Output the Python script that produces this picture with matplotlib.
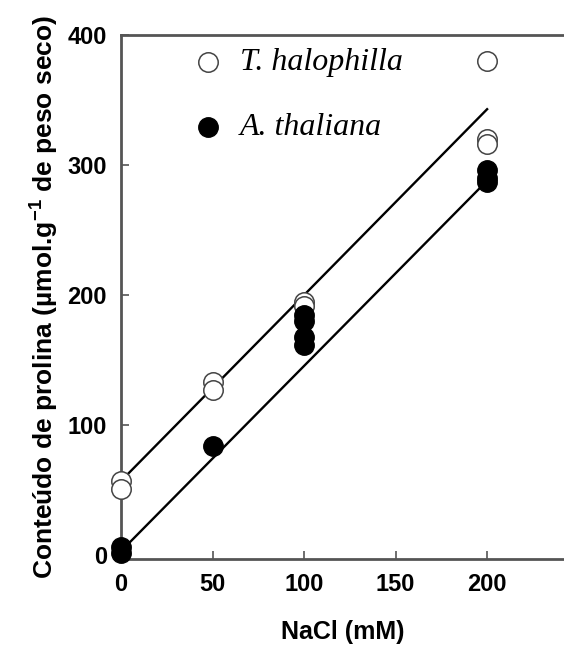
import matplotlib
matplotlib.use("Agg")
import matplotlib.pyplot as plt
import numpy as np

# T. halophilla (open circles)
th_x = [0, 0, 50, 50, 100, 100, 200, 200, 200]
th_y = [57, 51, 133, 127, 195, 192, 380, 320, 316]
# A. thaliana (filled circles)
at_x = [0, 0, 50, 100, 100, 100, 100, 200, 200, 200]
at_y = [6, 2, 84, 185, 180, 168, 162, 296, 290, 287]

# regression lines as drawn (intercept, slope)
th_fit = (57.0, 1.43)
at_fit = (3.0, 1.425)
fit_x = [0, 200]

plt.rcParams["font.family"] = ["Liberation Sans", "DejaVu Sans"]
plt.rcParams["mathtext.fontset"] = "custom"
plt.rcParams["mathtext.rm"] = "Liberation Sans:bold"
plt.rcParams["mathtext.bf"] = "Liberation Sans:bold"
plt.rcParams["mathtext.default"] = "bf"

fig = plt.figure(figsize=(5.64, 6.5), dpi=100)
ax = fig.add_axes([0.2145, 0.14, 0.7855, 0.806])

fx = np.array(fit_x, dtype=float)
ax.plot(fx, th_fit[0] + th_fit[1] * fx, color="black", lw=1.7, zorder=2)
ax.plot(fx, at_fit[0] + at_fit[1] * fx, color="black", lw=1.7, zorder=2)

ax.plot(th_x, th_y, "o", ms=14, mfc="white", mec="#444444", mew=1.1,
        ls="none", zorder=3, clip_on=False)
ax.plot(at_x, at_y, "o", ms=14, mfc="black", mec="black", mew=1.0,
        ls="none", zorder=4, clip_on=False)

# legend drawn by hand
ax.plot([0.196], [0.948], "o", ms=14, mfc="white", mec="#444444", mew=1.1,
        transform=ax.transAxes, clip_on=False)
ax.plot([0.196], [0.824], "o", ms=14, mfc="black", mec="black",
        transform=ax.transAxes, clip_on=False)
ax.text(0.268, 0.948, "T. halophilla", transform=ax.transAxes, fontsize=23,
        family="Liberation Serif", style="italic", va="center", ha="left")
ax.text(0.268, 0.824, "A. thaliana", transform=ax.transAxes, fontsize=23,
        family="Liberation Serif", style="italic", va="center", ha="left")

ax.set_xlim(0, 242)
ax.set_ylim(-3, 400)
ax.set_xticks([0, 50, 100, 150, 200])
ax.set_yticks([0, 100, 200, 300, 400])

ax.spines["right"].set_visible(False)
for side in ("left", "bottom", "top"):
    ax.spines[side].set_color("#555555")
    ax.spines[side].set_linewidth(2.0)

ax.tick_params(direction="in", length=6, width=1.2, color="#555555",
               labelsize=17, pad=10)
for lab in ax.get_xticklabels() + ax.get_yticklabels():
    lab.set_fontweight("bold")

ax.set_xlabel("NaCl (mM)", fontsize=18, fontweight="bold", labelpad=17)
ax.set_ylabel(r"Conteúdo de prolina (µmol.g$^{-1}$ de peso seco)",
              fontsize=19, fontweight="bold", labelpad=5)

fig.savefig("out.png", dpi=100)
